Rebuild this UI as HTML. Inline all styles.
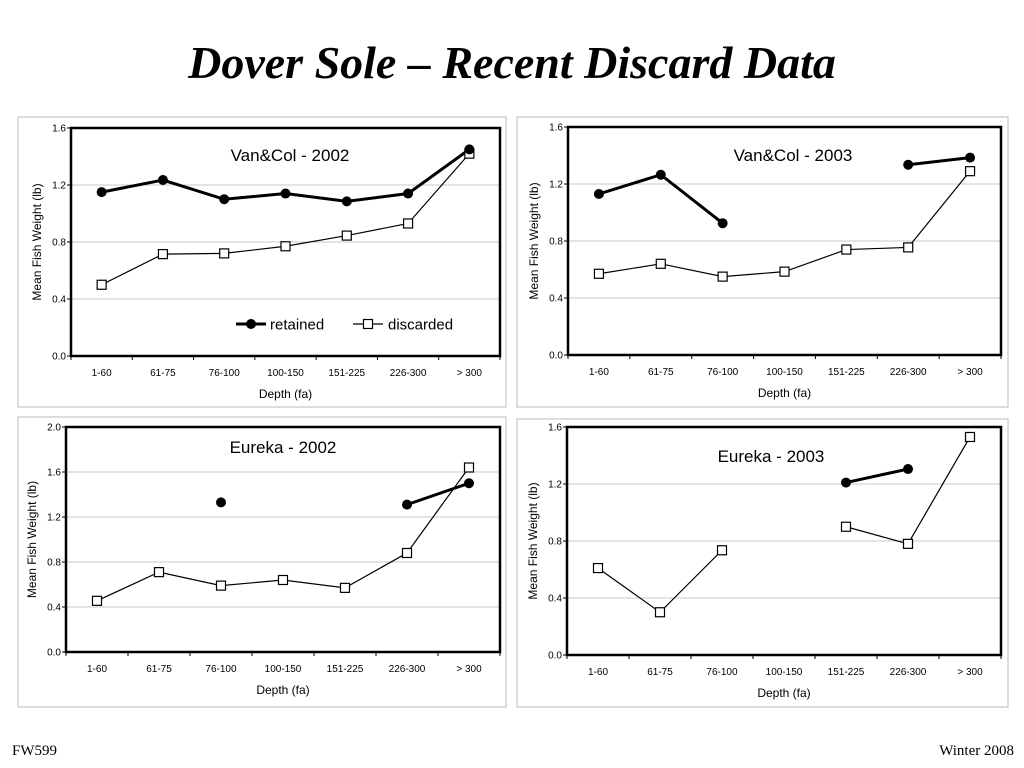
<!DOCTYPE html>
<html><head><meta charset="utf-8"><style>
body{margin:0;width:1024px;height:768px;background:#fff;font-family:"Liberation Sans",sans-serif;position:relative;overflow:hidden}
#title{position:absolute;left:0;width:1024px;top:36px;text-align:center;font-family:"Liberation Serif",serif;font-style:italic;font-weight:bold;font-size:46px}
.foot{position:absolute;top:743px;font-family:"Liberation Serif",serif;font-size:15px}
svg{position:absolute;left:0;top:0}
</style></head><body>
<div id="title">Dover Sole – Recent Discard Data</div>
<div class="foot" style="left:12px">FW599</div>
<div class="foot" style="right:10px">Winter 2008</div>
<svg id="s" width="1024" height="768"></svg>
<script>
const categories=["1-60","61-75","76-100","100-150","151-225","226-300","> 300"];
const vc02Retained=[1.15,1.235,1.10,1.14,1.085,1.14,1.45];
const vc02Discarded=[0.50,0.715,0.72,0.77,0.845,0.93,1.42];
const vc03Retained=[1.13,1.265,0.925,null,null,1.335,1.385];
const vc03Discarded=[0.57,0.64,0.55,0.585,0.74,0.755,1.29];
const eu02Retained=[null,null,1.33,null,null,1.31,1.50];
const eu02Discarded=[0.455,0.71,0.59,0.64,0.57,0.88,1.64];
const eu03Retained=[null,null,null,null,1.21,1.305,null];
const eu03Discarded=[0.61,0.30,0.735,null,0.90,0.78,1.53];
const ticks16=["0.0","0.4","0.8","1.2","1.6"];
const ticks20=["0.0","0.4","0.8","1.2","1.6","2.0"];
const NS="http://www.w3.org/2000/svg";
const svg=document.getElementById('s');
function mk(t,a,p){const e=document.createElementNS(NS,t);for(const k in a)e.setAttribute(k,a[k]);(p||svg).appendChild(e);return e;}
function panel(name,box,pl,title,titlePos,ticks,ret,dis,legend){
 const g=mk('g',{});
 
 
 const b=mk('rect',{x:box[0],y:box[1],width:box[2],height:box[3],fill:'none',stroke:'#bbb','stroke-width':1},g);
 
 const [L,T,R,B]=pl;const ymax=parseFloat(ticks[ticks.length-1]);
 const y=v=>B-(v/ymax)*(B-T);
 const bw=(R-L)/categories.length;const x=i=>L+bw*(i+0.5);
 ticks.forEach(t=>{const v=parseFloat(t);
  if(v>0&&v<ymax){const gl=mk('line',{x1:L,x2:R,y1:y(v),y2:y(v),stroke:'#c8c8c8','stroke-width':1},g);}
  mk('line',{x1:L-4,x2:L,y1:y(v),y2:y(v),stroke:'#000'},g);
  const tx=mk('text',{x:L-5,y:y(v)+3.5,'font-size':10,'text-anchor':'end'},g);tx.textContent=t;
  });
 categories.forEach((c,i)=>{mk('line',{x1:L+bw*i,x2:L+bw*i,y1:B,y2:B+4,stroke:'#000'},g);
  const tx=mk('text',{x:x(i),y:B+20,'font-size':10,'text-anchor':'middle'},g);tx.textContent=c;
  });
 mk('line',{x1:R,x2:R,y1:B,y2:B+4,stroke:'#000'},g);
 const fr=mk('rect',{x:L,y:T,width:R-L,height:B-T,fill:'none',stroke:'#000','stroke-width':2.5},g);
 
 const xt=mk('text',{x:(L+R)/2,y:B+42,'font-size':12,'text-anchor':'middle'},g);xt.textContent='Depth (fa)';
 
 const yt=mk('text',{x:0,y:0,'font-size':12,'text-anchor':'middle',transform:`translate(${L-30},${(T+B)/2}) rotate(-90)`},g);yt.textContent='Mean Fish Weight (lb)';
 
 const tt=mk('text',{x:titlePos[0],y:titlePos[1],'font-size':17,'text-anchor':'middle'},g);tt.textContent=title;
 
 function series(arr,w,nm){let seg=[];const segs=[];arr.forEach((v,i)=>{if(v==null){if(seg.length)segs.push(seg);seg=[];}else seg.push([x(i),y(v)]);});if(seg.length)segs.push(seg);
  segs.forEach(s=>{if(s.length>1){const p=mk('polyline',{points:s.map(q=>q.join(',')).join(' '),fill:'none',stroke:'#000','stroke-width':w},g);}});}
 series(dis,1.2,'discarded');series(ret,3,'retained');
 dis.forEach((v,i)=>{if(v==null)return;const m=mk('rect',{x:x(i)-4.5,y:y(v)-4.5,width:9,height:9,fill:'#fff',stroke:'#000','stroke-width':1.2},g);});
 ret.forEach((v,i)=>{if(v==null)return;const m=mk('circle',{cx:x(i),cy:y(v),r:5,fill:'#000'},g);});
 if(legend){const lg=mk('g',{},g);
  const ly=324;mk('line',{x1:236,x2:266,y1:ly,y2:ly,stroke:'#000','stroke-width':3},lg);mk('circle',{cx:251,cy:ly,r:5,fill:'#000'},lg);
  let t1=mk('text',{x:270,y:ly+5.5,'font-size':15},lg);t1.textContent='retained';
  mk('line',{x1:353,x2:383,y1:ly,y2:ly,stroke:'#000','stroke-width':1.2},lg);mk('rect',{x:363.5,y:ly-4.5,width:9,height:9,fill:'#fff',stroke:'#000','stroke-width':1.2},lg);
  let t2=mk('text',{x:388,y:ly+5.5,'font-size':15},lg);t2.textContent='discarded';}
}
panel('chart-vancol-2002',[18,117,488,290],[71,128,500,356],'Van&Col - 2002',[290,161],ticks16,vc02Retained,vc02Discarded,true);
panel('chart-vancol-2003',[517,117,491,290],[568,127,1001,355],'Van&Col - 2003',[793,161],ticks16,vc03Retained,vc03Discarded,false);
panel('chart-eureka-2002',[18,417,488,290],[66,427,500,652],'Eureka - 2002',[283,453],ticks20,eu02Retained,eu02Discarded,false);
panel('chart-eureka-2003',[517,419,491,288],[567,427,1001,655],'Eureka - 2003',[771,462],ticks16,eu03Retained,eu03Discarded,false);
</script>
</body></html>
